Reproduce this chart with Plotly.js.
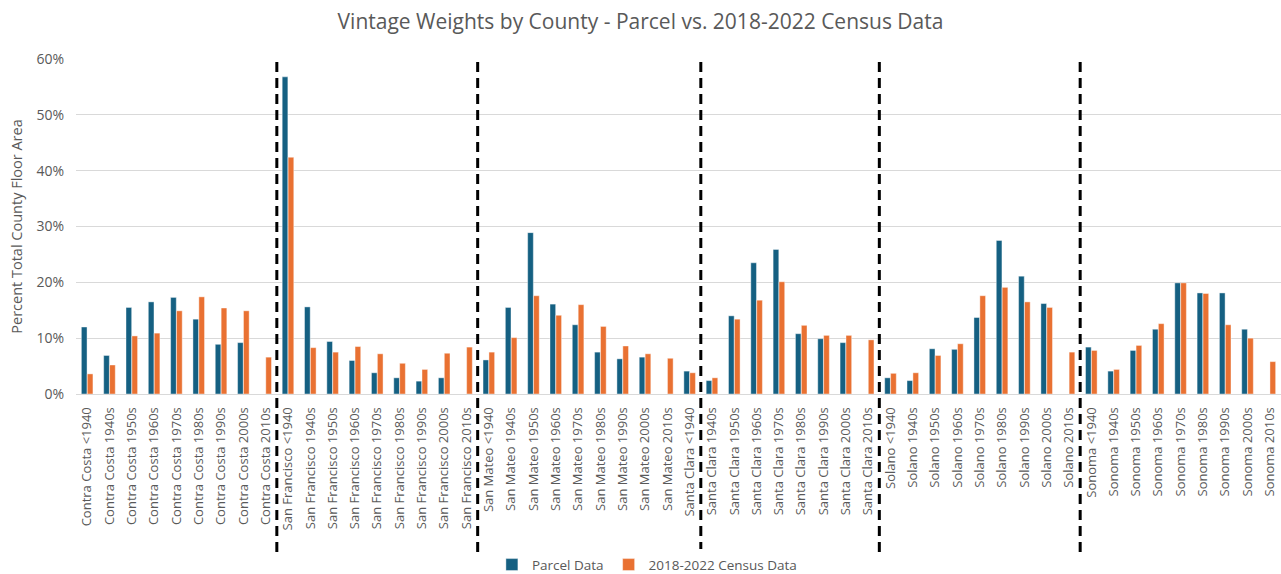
<!DOCTYPE html>
<html>
<head>
<meta charset="utf-8">
<script src="https://cdn.plot.ly/plotly-3.0.1.min.js"></script>
<style>html,body{margin:0;padding:0;background:#fff;}#chart{width:1281px;height:574px;}</style>
</head>
<body>
<div id="chart"></div>
<script>
const counties = ["Contra Costa", "San Francisco", "San Mateo", "Santa Clara", "Solano", "Sonoma"];
const vintages = ["<1940", "1940s", "1950s", "1960s", "1970s", "1980s", "1990s", "2000s", "2010s"];

const parcelContraCosta   = [12.0, 6.9, 15.5, 16.5, 17.3, 13.4, 8.9, 9.2, 0];
const parcelSanFrancisco  = [56.8, 15.6, 9.4, 6.0, 3.8, 2.9, 2.3, 2.9, 0];
const parcelSanMateo      = [6.1, 15.5, 28.9, 16.1, 12.4, 7.5, 6.3, 6.6, 0];
const parcelSantaClara    = [4.1, 2.4, 14.0, 23.5, 25.9, 10.8, 9.9, 9.2, 0];
const parcelSolano        = [2.9, 2.4, 8.1, 8.0, 13.7, 27.5, 21.1, 16.2, 0];
const parcelSonoma        = [8.4, 4.1, 7.8, 11.6, 19.9, 18.1, 18.1, 11.6, 0];

const censusContraCosta   = [3.6, 5.2, 10.4, 10.9, 14.9, 17.4, 15.4, 14.9, 6.6];
const censusSanFrancisco  = [42.4, 8.3, 7.5, 8.5, 7.2, 5.5, 4.4, 7.3, 8.4];
const censusSanMateo      = [7.5, 10.1, 17.6, 14.1, 16.0, 12.1, 8.6, 7.2, 6.4];
const censusSantaClara    = [3.8, 2.9, 13.4, 16.8, 20.1, 12.3, 10.5, 10.5, 9.7];
const censusSolano        = [3.7, 3.8, 6.9, 9.0, 17.6, 19.1, 16.5, 15.5, 7.5];
const censusSonoma        = [7.8, 4.4, 8.7, 12.6, 19.9, 18.0, 12.4, 10.0, 5.8];

// dashed separators placed after these category indices (as drawn in the source)
const separatorAfter = [8, 17, 27, 35, 44];

const seriesNames = ["Parcel Data", "2018-2022 Census Data"];
const yTickVals = [0, 0.1, 0.2, 0.3, 0.4, 0.5, 0.6];

const categories = [];
counties.forEach(c => vintages.forEach(v => categories.push(c + " " + v)));
const parcel = [].concat(parcelContraCosta, parcelSanFrancisco, parcelSanMateo, parcelSantaClara, parcelSolano, parcelSonoma).map(v => v === 0 ? null : v / 100);
const census = [].concat(censusContraCosta, censusSanFrancisco, censusSanMateo, censusSantaClara, censusSolano, censusSonoma).map(v => v / 100);

const txtColor = "#595959";
const fontFam = "Open Sans, Liberation Sans, sans-serif";

const traces = [
  {type: "bar", name: seriesNames[0], x: categories, y: parcel,
   marker: {color: "#156082", line: {color: "rgba(255,255,255,0.7)", width: 0.6}}},
  {type: "bar", name: seriesNames[1], x: categories, y: census,
   marker: {color: "#E97132", line: {color: "rgba(255,255,255,0.7)", width: 0.6}}}
];

const shapes = separatorAfter.map(i => ({
  type: "line", xref: "x", yref: "paper",
  x0: i + 0.5, x1: i + 0.5, y0: -0.472, y1: 0.994,
  line: {color: "#000000", width: 3, dash: "10px,6px"}
}));

const layout = {
  width: 1281, height: 574,
  margin: {l: 76, r: 0, t: 59, b: 180},
  paper_bgcolor: "#ffffff", plot_bgcolor: "#ffffff",
  title: {text: "Vintage Weights by County - Parcel vs. 2018-2022 Census Data",
          font: {family: fontFam, size: 21, color: txtColor}, x: 0.5, xanchor: "center", y: 0.963, yanchor: "middle"},
  barmode: "group", bargap: 0.47, bargroupgap: 0.04,
  xaxis: {type: "category", tickangle: -90, tickfont: {family: fontFam, size: 13, color: txtColor},
          showgrid: false, showline: true, linecolor: "#d9d9d9", linewidth: 1, ticks: "",
          ticklabelstandoff: 7, automargin: false, fixedrange: true},
  yaxis: {range: [0, 0.6], tickvals: yTickVals, tickformat: ".0%",
          tickfont: {family: fontFam, size: 14, color: txtColor},
          gridcolor: "#d9d9d9", gridwidth: 1, zeroline: true, zerolinecolor: "#d9d9d9", zerolinewidth: 1,
          showline: false, ticks: "", ticklabelstandoff: 11,
          title: {text: "Percent Total County Floor Area", font: {family: fontFam, size: 14.5, color: txtColor}, standoff: 10},
          automargin: false, fixedrange: true},
  legend: {orientation: "h", xref: "container", x: 0.505, xanchor: "center", yref: "container", y: 0.016, yanchor: "middle",
           font: {family: fontFam, size: 13.5, color: txtColor}, itemwidth: 30, traceorder: "normal"},
  shapes: shapes,
  showlegend: true
};

Plotly.newPlot("chart", traces, layout, {displayModeBar: false, staticPlot: true});
</script>
</body>
</html>
